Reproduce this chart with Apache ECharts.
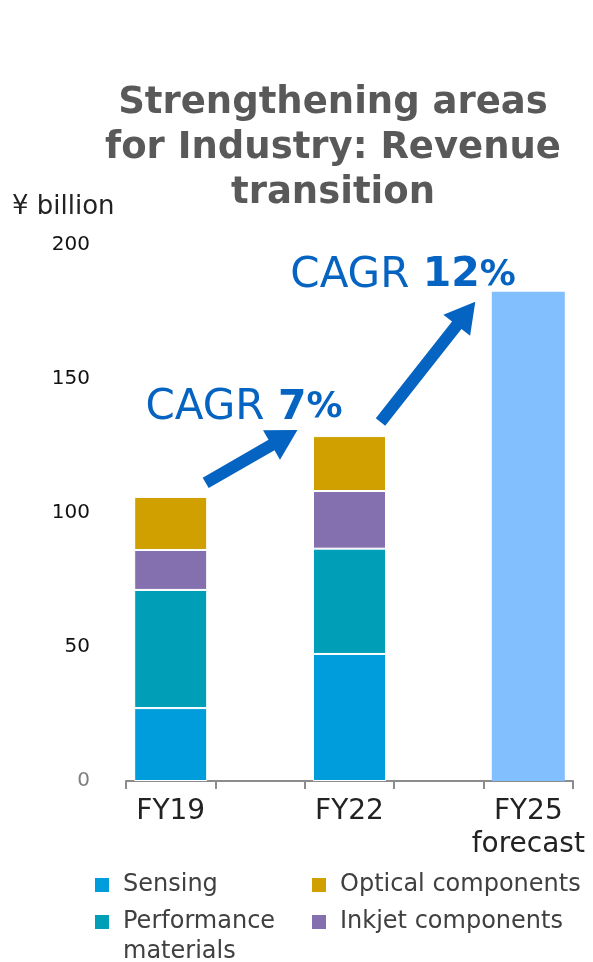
<!DOCTYPE html>
<html>
<head>
<meta charset="utf-8">
<script src="https://cdn.jsdelivr.net/npm/echarts@6/dist/echarts.min.js"></script>
<style>
  html, body { margin: 0; padding: 0; background: #fff; }
  #main { width: 593px; height: 962px; }
</style>
</head>
<body>
<div id="main"></div>
<script>
  // values in ¥ billion
  var years = ['FY19', 'FY22', 'FY25\nforecast'];
  var sensing = [27.2, 47.4, null];
  var performance = [44.1, 39.3, null];
  var inkjet = [14.9, 21.5, null];
  var optical = [19.8, 20.5, null];
  var forecastTotal = [null, null, 182.6];
  var cagr = ['7', '12'];

  var font = 'DejaVu Sans, Verdana, sans-serif';
  var blue = '#0563c1';

  // a blank slot sits between every two years, like in the slide
  function spread(arr, fill) {
    var out = [];
    arr.forEach(function (v, i) {
      if (i) out.push(fill);
      out.push(v);
    });
    return out;
  }
  var slots = [];
  years.forEach(function (y, i) {
    if (i) slots.push(' '.repeat(i));
    slots.push(y);
  });

  var myChart = echarts.init(document.getElementById('main'));

  function seg(name, data, color) {
    return {
      name: name,
      type: 'bar',
      stack: 'rev',
      barWidth: 73,
      data: spread(data, null),
      itemStyle: { color: color, borderColor: '#fff', borderWidth: 1 },
    };
  }

  function oneLegend(name, left, top, twoLines) {
    var l = {
      data: [name],
      left: left,
      top: top,
      padding: 0,
      selectedMode: false,
      itemWidth: 16,
      itemHeight: 16,
      icon: 'rect',
      textStyle: { fontSize: 24, fontFamily: font, color: '#404040', lineHeight: 30, padding: [0, 0, 0, 8] },
    };
    if (twoLines) {
      // square kept at the top of a taller box so it lines up with the first line
      l.formatter = function (n) { return n.replace(' ', '\n'); };
      l.itemHeight = 46;
      l.icon = 'path://M0,0L16,0L16,16L0,16Z M0,46L0.01,46';
    }
    return l;
  }

  var option = {
    animation: false,
    backgroundColor: '#fff',
    title: [
      {
        text: 'Strengthening areas\nfor Industry: Revenue\ntransition',
        left: 333,
        top: 81,
        padding: 0,
        textAlign: 'center',
        textStyle: { fontSize: 37, fontWeight: 'bold', color: '#595959', fontFamily: font, lineHeight: 45 },
      },
      {
        text: '¥ billion',
        left: 12,
        top: 194,
        padding: 0,
        textStyle: { fontSize: 26, fontWeight: 'normal', color: '#222', fontFamily: font },
      },
    ],
    legend: [
      oneLegend('Sensing', 93, 870),
      oneLegend('Performance materials', 93, 907, true),
      oneLegend('Optical components', 310, 870),
      oneLegend('Inkjet components', 310, 907),
    ],
    grid: { left: 126, right: 20, top: 245, bottom: 181 },
    xAxis: {
      type: 'category',
      data: slots,
      axisLine: { lineStyle: { color: '#8c8c8c', width: 2 } },
      axisTick: { show: true, length: 8, interval: 0, lineStyle: { color: '#8c8c8c', width: 2 } },
      axisLabel: { interval: 0, fontSize: 28, color: '#222', fontFamily: font, lineHeight: 33, margin: 14 },
    },
    yAxis: {
      type: 'value',
      min: 0,
      max: 200,
      interval: 50,
      axisLine: { show: false },
      axisTick: { show: false },
      splitLine: { show: false },
      axisLabel: {
        margin: 36,
        fontSize: 20,
        fontFamily: font,
        color: '#111',
        formatter: function (v) { return v === 0 ? '{g|0}' : String(v); },
        rich: { g: { color: '#7f7f7f', fontSize: 20, fontFamily: font } },
      },
    },
    series: [
      seg('Sensing', sensing, '#009ddc'),
      seg('Performance materials', performance, '#009fb7'),
      seg('Inkjet components', inkjet, '#8470ae'),
      seg('Optical components', optical, '#cfa000'),
      {
        name: 'FY25 forecast',
        type: 'bar',
        stack: 'rev',
        barWidth: 75,
        data: spread(forecastTotal, null),
        itemStyle: { color: '#82bfff' },
      },
    ],
  };
  myChart.setOption(option);

  // annotation arrows placed from the bar tops
  function total(i) {
    var t = 0;
    [sensing, performance, inkjet, optical, forecastTotal].forEach(function (a) { t += a[i] || 0; });
    return t;
  }
  function barTop(i) {
    return myChart.convertToPixel({ seriesIndex: 0 }, [i * 2, total(i)]);
  }
  function arrow(x1, y1, x2, y2) {
    var w = 12, hl = 30, hw = 34;
    var dx = x2 - x1, dy = y2 - y1, len = Math.sqrt(dx * dx + dy * dy);
    var ux = dx / len, uy = dy / len, nx = -uy, ny = ux;
    var bx = x2 - ux * hl, by = y2 - uy * hl;
    return {
      type: 'polygon',
      shape: {
        points: [
          [x1 + nx * w / 2, y1 + ny * w / 2],
          [bx + nx * w / 2, by + ny * w / 2],
          [bx + nx * hw / 2, by + ny * hw / 2],
          [x2, y2],
          [bx - nx * hw / 2, by - ny * hw / 2],
          [bx - nx * w / 2, by - ny * w / 2],
          [x1 - nx * w / 2, y1 - ny * w / 2],
        ],
      },
      style: { fill: blue },
    };
  }
  function cagrText(x, y, pct) {
    return {
      type: 'text',
      x: x,
      y: y,
      style: {
        text: 'CAGR {b|' + pct + '}{p|%}',
        fill: blue,
        fontSize: 42,
        fontFamily: font,
        verticalAlign: 'middle',
        rich: {
          b: { fontSize: 41, fontWeight: 'bold', fill: blue, fontFamily: font },
          p: { fontSize: 36, fontWeight: 'bold', fill: blue, fontFamily: font },
        },
      },
    };
  }
  var p0 = barTop(0), p1 = barTop(1), p2 = barTop(2);
  var tip1 = [p1[0] - 52, p1[1] - 6];
  var tip2 = [p2[0] - 53, p2[1] + 10];
  myChart.setOption({
    graphic: [
      arrow(p0[0] + 35, p0[1] - 14, tip1[0], tip1[1]),
      arrow(p1[0] + 31, p1[1] - 14, tip2[0], tip2[1]),
      cagrText(tip1[0] - 152, tip1[1] - 22, cagr[0]),
      cagrText(tip2[0] - 185, tip2[1] - 26, cagr[1]),
    ],
  });
</script>
</body>
</html>
